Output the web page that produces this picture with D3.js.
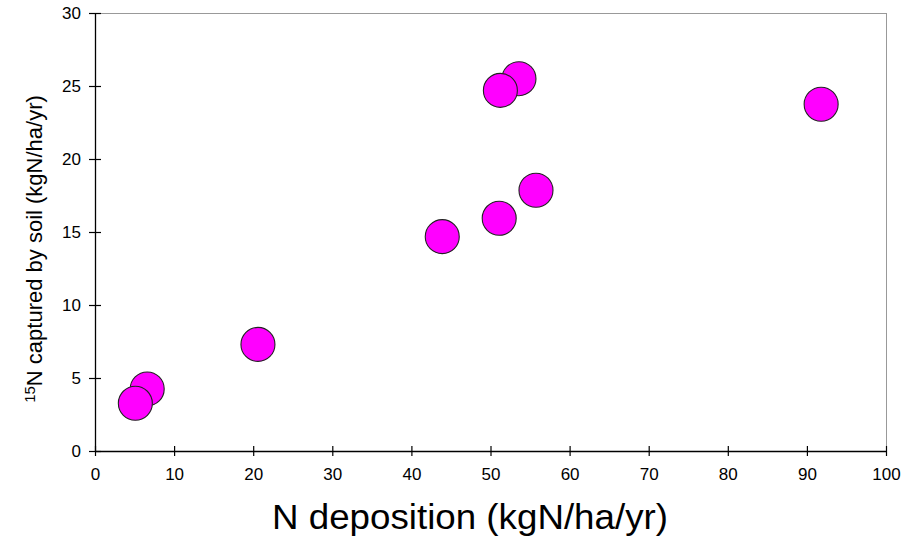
<!DOCTYPE html>
<html><head><meta charset="utf-8">
<script src="https://cdn.jsdelivr.net/npm/d3@7"></script>
<style>body{margin:0;background:#fff;} svg{display:block;}</style>
</head><body>
<svg id="c" width="916" height="538"></svg>
<script>
const depositionX = [6.6, 5.1, 20.6, 43.9, 51.1, 55.75, 53.6, 51.25, 91.8];
const capturedY = [4.25, 3.27, 7.3, 14.68, 15.94, 17.86, 25.5, 24.7, 23.75];
const xTicks = [0,10,20,30,40,50,60,70,80,90,100];
const yTicks = [0,5,10,15,20,25,30];

const svg = d3.select("#c");
const L = 95, R = 886, T = 13, B = 451;
const x = d3.scaleLinear().domain([0,100]).range([L,R]);
const y = d3.scaleLinear().domain([0,30]).range([B,T]);
const font = "Liberation Sans, Arial, sans-serif";

// plot frame (top/right gray)
svg.append("line").attr("x1",L).attr("x2",R).attr("y1",T+0.5).attr("y2",T+0.5).attr("stroke","#999").attr("stroke-width",1);
svg.append("line").attr("x1",R+0.5).attr("x2",R+0.5).attr("y1",T).attr("y2",B).attr("stroke","#999").attr("stroke-width",1);

// axes
const xa = svg.append("g").attr("transform",`translate(0,${B})`)
  .call(d3.axisBottom(x).tickValues(xTicks).tickSizeInner(5).tickSizeOuter(0).tickPadding(12));
const ya = svg.append("g").attr("transform",`translate(${L},0)`)
  .call(d3.axisLeft(y).tickValues(yTicks).tickSizeInner(6).tickSizeOuter(0).tickPadding(12));
[xa,ya].forEach(g=>{
  g.select(".domain").attr("stroke","#000").attr("stroke-width",1.3);
  g.selectAll(".tick line").attr("stroke","#000").attr("stroke-width",1.2);
  g.selectAll("text").attr("font-family",font).attr("font-size",17).attr("fill","#000");
});
xa.selectAll(".tick line").attr("y1",-5);
ya.selectAll(".tick line").attr("x1",6).attr("x2",-6);
ya.selectAll(".tick text").attr("x",-14);

// points
svg.append("g").selectAll("circle").data(depositionX).join("circle")
  .attr("cx",(d)=>x(d)).attr("cy",(d,i)=>y(capturedY[i])).attr("r",17)
  .attr("fill","#ff00ff").attr("stroke","#222").attr("stroke-width",1.1);

// axis titles
svg.append("text").attr("x",470).attr("y",529).attr("text-anchor","middle")
  .attr("font-family",font).attr("font-size",35)
  .attr("textLength",396).attr("lengthAdjust","spacingAndGlyphs")
  .text("N deposition (kgN/ha/yr)");
const yt = svg.append("text").attr("transform",`translate(42,249) rotate(-90)`)
  .attr("text-anchor","middle").attr("font-family",font).attr("font-size",22);
yt.append("tspan").attr("font-size",15).attr("dy",-7).text("15");
yt.append("tspan").attr("dy",7).text("N captured by soil (kgN/ha/yr)");
</script>
</body></html>
